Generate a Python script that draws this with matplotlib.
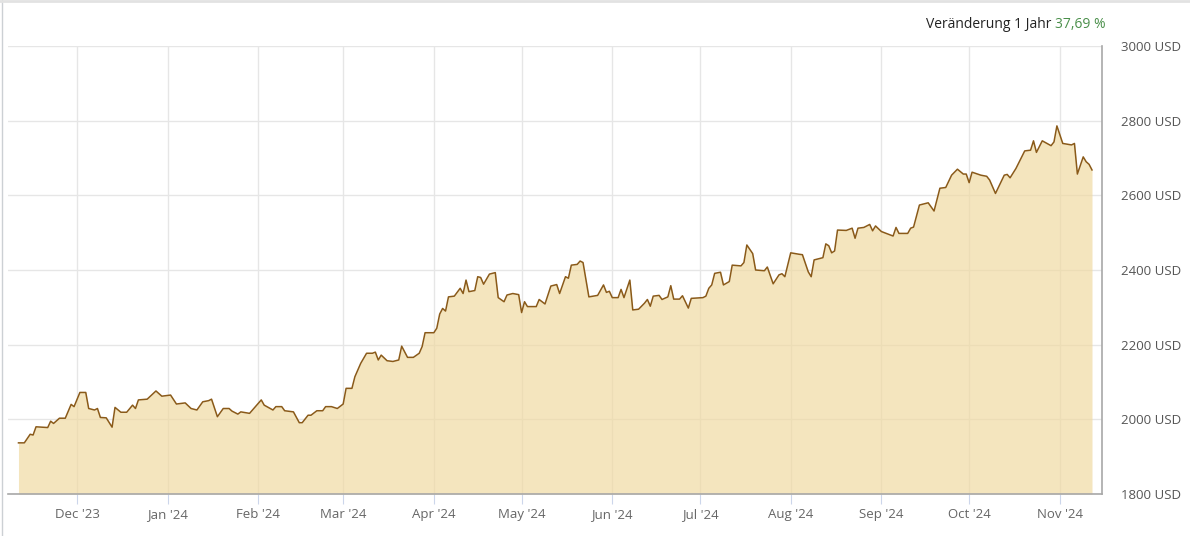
import matplotlib
matplotlib.use('Agg')
import matplotlib.pyplot as plt
import pandas as pd
from matplotlib.lines import Line2D

plt.rcParams['font.family'] = ['Open Sans', 'DejaVu Sans']

# gold price in USD
dates = [
    '2023-11-11', '2023-11-13', '2023-11-15', '2023-11-16', '2023-11-17', '2023-11-21',
    '2023-11-22', '2023-11-23', '2023-11-25', '2023-11-27', '2023-11-29', '2023-11-30',
    '2023-12-02', '2023-12-04', '2023-12-05', '2023-12-07', '2023-12-08', '2023-12-09',
    '2023-12-11', '2023-12-13', '2023-12-14', '2023-12-16', '2023-12-18', '2023-12-20',
    '2023-12-21', '2023-12-22', '2023-12-25', '2023-12-28', '2023-12-30',
    '2024-01-02', '2024-01-04', '2024-01-07', '2024-01-09', '2024-01-11', '2024-01-13',
    '2024-01-15', '2024-01-16', '2024-01-18', '2024-01-20', '2024-01-22', '2024-01-23',
    '2024-01-25', '2024-01-26', '2024-01-29', '2024-01-31',
    '2024-02-02', '2024-02-03', '2024-02-06', '2024-02-07', '2024-02-09', '2024-02-10',
    '2024-02-13', '2024-02-15', '2024-02-16', '2024-02-18', '2024-02-19', '2024-02-21',
    '2024-02-23', '2024-02-24', '2024-02-26', '2024-02-28',
    '2024-03-01', '2024-03-02', '2024-03-04', '2024-03-05', '2024-03-07', '2024-03-09',
    '2024-03-11', '2024-03-12', '2024-03-13', '2024-03-14', '2024-03-16', '2024-03-18',
    '2024-03-20', '2024-03-21', '2024-03-23', '2024-03-25', '2024-03-27', '2024-03-28',
    '2024-03-29',
    '2024-04-01', '2024-04-02', '2024-04-03', '2024-04-04', '2024-04-05', '2024-04-06',
    '2024-04-08', '2024-04-10', '2024-04-11', '2024-04-12', '2024-04-13', '2024-04-15',
    '2024-04-16', '2024-04-17', '2024-04-18', '2024-04-20', '2024-04-22', '2024-04-23',
    '2024-04-25', '2024-04-26', '2024-04-28', '2024-04-30',
    '2024-05-01', '2024-05-02', '2024-05-03', '2024-05-06', '2024-05-07', '2024-05-09',
    '2024-05-11', '2024-05-13', '2024-05-14', '2024-05-16', '2024-05-17', '2024-05-18',
    '2024-05-20', '2024-05-21', '2024-05-22', '2024-05-24', '2024-05-27', '2024-05-29',
    '2024-05-30', '2024-05-31',
    '2024-06-01', '2024-06-03', '2024-06-04', '2024-06-05', '2024-06-07', '2024-06-08',
    '2024-06-10', '2024-06-12', '2024-06-13', '2024-06-14', '2024-06-15', '2024-06-17',
    '2024-06-18', '2024-06-20', '2024-06-21', '2024-06-22', '2024-06-24', '2024-06-25',
    '2024-06-27', '2024-06-28',
    '2024-07-02', '2024-07-03', '2024-07-04', '2024-07-05', '2024-07-06', '2024-07-08',
    '2024-07-09', '2024-07-11', '2024-07-12', '2024-07-15', '2024-07-16', '2024-07-17',
    '2024-07-19', '2024-07-20', '2024-07-23', '2024-07-24', '2024-07-26', '2024-07-28',
    '2024-07-29', '2024-07-30',
    '2024-08-01', '2024-08-04', '2024-08-05', '2024-08-07', '2024-08-08', '2024-08-09',
    '2024-08-12', '2024-08-13', '2024-08-14', '2024-08-15', '2024-08-16', '2024-08-17',
    '2024-08-20', '2024-08-22', '2024-08-23', '2024-08-24', '2024-08-26', '2024-08-28',
    '2024-08-29', '2024-08-30',
    '2024-09-01', '2024-09-02', '2024-09-05', '2024-09-06', '2024-09-07', '2024-09-10',
    '2024-09-11', '2024-09-12', '2024-09-14', '2024-09-17', '2024-09-19', '2024-09-21',
    '2024-09-23', '2024-09-25', '2024-09-27', '2024-09-29', '2024-09-30',
    '2024-10-01', '2024-10-02', '2024-10-05', '2024-10-07', '2024-10-08', '2024-10-10',
    '2024-10-13', '2024-10-14', '2024-10-15', '2024-10-17', '2024-10-20', '2024-10-22',
    '2024-10-23', '2024-10-24', '2024-10-26', '2024-10-29', '2024-10-30', '2024-10-31',
    '2024-11-02', '2024-11-05', '2024-11-06', '2024-11-07', '2024-11-09', '2024-11-10',
    '2024-11-11', '2024-11-12',
]
prices = [
    1937, 1937, 1960, 1958, 1980, 1978,
    1995, 1989, 2003, 2003, 2040, 2034,
    2072, 2072, 2029, 2025, 2029, 2005,
    2004, 1979, 2032, 2019, 2019, 2038,
    2029, 2052, 2054, 2076, 2062,
    2065, 2041, 2044, 2029, 2025, 2047,
    2050, 2054, 2007, 2029, 2029, 2022,
    2014, 2020, 2016, 2034,
    2052, 2038, 2025, 2034, 2034, 2023,
    2020, 1991, 1991, 2011, 2011, 2023,
    2023, 2034, 2034, 2029,
    2041, 2083, 2083, 2114, 2150, 2177,
    2177, 2180, 2159, 2172, 2157, 2155,
    2159, 2196, 2166, 2166, 2177, 2195,
    2232,
    2232, 2244, 2282, 2297, 2290, 2328,
    2330, 2351, 2337, 2373, 2342, 2345,
    2382, 2380, 2362, 2389, 2393, 2326,
    2315, 2333, 2337, 2334,
    2286, 2315, 2302, 2302, 2321, 2309,
    2357, 2361, 2337, 2382, 2378, 2413,
    2415, 2424, 2420, 2328, 2332, 2360,
    2340, 2343,
    2326, 2326, 2348, 2326, 2373, 2293,
    2295, 2311, 2321, 2303, 2330, 2332,
    2321, 2328, 2358, 2322, 2322, 2331,
    2298, 2324,
    2326, 2330, 2351, 2360, 2391, 2394,
    2360, 2369, 2413, 2411, 2420, 2467,
    2444, 2400, 2398, 2408, 2363, 2387,
    2390, 2382,
    2446, 2442, 2441, 2395, 2382, 2427,
    2433, 2470, 2465, 2446, 2451, 2507,
    2506, 2512, 2485, 2512, 2514, 2522,
    2505, 2518,
    2503, 2500, 2491, 2514, 2498, 2498,
    2512, 2515, 2574, 2580, 2558, 2619,
    2621, 2654, 2670, 2657, 2657,
    2634, 2662, 2654, 2651, 2641, 2605,
    2654, 2656, 2647, 2672, 2719, 2721,
    2746, 2715, 2746, 2733, 2743, 2786,
    2739, 2735, 2739, 2657, 2703, 2690,
    2683, 2668,
]

month_ticks = ['2023-12-01', '2024-01-01', '2024-02-01', '2024-03-01', '2024-04-01',
               '2024-05-01', '2024-06-01', '2024-07-01', '2024-08-01', '2024-09-01',
               '2024-10-01', '2024-11-01']
month_labels = ["Dec '23", "Jan '24", "Feb '24", "Mar '24", "Apr '24", "May '24",
                "Jun '24", "Jul '24", "Aug '24", "Sep '24", "Oct '24", "Nov '24"]
y_ticks = [1800, 2000, 2200, 2400, 2600, 2800, 3000]
change_label = 'Veränderung 1 Jahr'
change_value = '37,69 %'

W, H = 1190, 536
fig = plt.figure(figsize=(W / 100, H / 100), dpi=100)
ax = fig.add_axes([8 / W, 42 / H, 1094 / W, 448 / H])

x = pd.to_datetime(dates)
ax.fill_between(x, prices, 1800, color='#f0d9a0', alpha=0.68, lw=0, zorder=1)
ax.plot(x, prices, color='#8a5a19', lw=1.1, zorder=2)

ax.set_xlim(pd.Timestamp('2023-11-07 10:00'), pd.Timestamp('2024-11-15 10:00'))
ax.set_ylim(1800, 3000)

ax.set_xticks(pd.to_datetime(month_ticks))
ax.set_xticklabels(month_labels)
ax.set_yticks(y_ticks)
ax.set_yticklabels([f'{v} USD' for v in y_ticks])
ax.yaxis.tick_right()

ax.tick_params(axis='y', length=0, pad=14, labelsize=9.5, labelcolor='#555555')
ax.tick_params(axis='x', length=7, width=0.8, color='#ccd6eb', pad=3,
               labelsize=9.5, labelcolor='#666666')
ax.grid(True, color='#e6e6e6', lw=1)
ax.set_axisbelow(True)

ax.spines['left'].set_visible(False)
ax.spines['top'].set_visible(False)
ax.spines['bottom'].set_color('#a8a8a8')
ax.spines['right'].set_color('#a8a8a8')
ax.spines['bottom'].set_linewidth(1.2)
ax.spines['right'].set_linewidth(1.2)

# container borders
fig.add_artist(Line2D([1.5 / W, 1.5 / W], [0, 1], transform=fig.transFigure,
                      color='#ccd0d4', lw=1))
fig.add_artist(Line2D([0, 1], [1 - 1.2 / H, 1 - 1.2 / H], transform=fig.transFigure,
                      color='#e2e2e2', lw=2))

# header: change over one year
t_val = fig.text(1106 / W, 1 - 24 / H, change_value, ha='right', va='center',
                 color='#4a8f4a', fontsize=10)
renderer = fig.canvas.get_renderer()
bb = t_val.get_window_extent(renderer)
fig.text((bb.x0 - 4) / W, 1 - 24 / H, change_label, ha='right', va='center',
         color='#222222', fontsize=10)

fig.savefig('out.png', dpi=100)
